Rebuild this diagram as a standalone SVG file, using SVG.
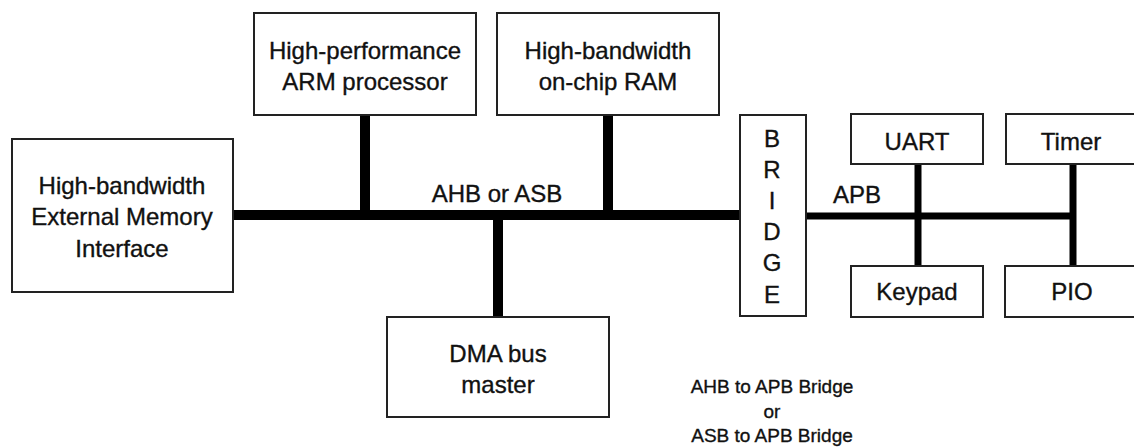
<svg xmlns="http://www.w3.org/2000/svg" width="1134" height="447" viewBox="0 0 1134 447">
<style>
.box{fill:#fff;stroke:#222;stroke-width:2}
.t{font-family:"Liberation Sans",Arial,sans-serif;font-size:24px;fill:#111;stroke:#111;stroke-width:0.35;text-anchor:middle}
.s{font-family:"Liberation Sans",Arial,sans-serif;font-size:19px;fill:#111;stroke:#111;stroke-width:0.35;text-anchor:middle}
.bus{stroke:#000;stroke-width:10;fill:none}
.apb{stroke:#000;stroke-width:7;fill:none}
</style>
<rect width="1134" height="447" fill="#fff"/>
<g id="connectors">
<line class="bus" x1="233" y1="215" x2="740" y2="215"/>
<line class="bus" x1="365" y1="115" x2="365" y2="215"/>
<line class="bus" x1="608" y1="115" x2="608" y2="215"/>
<line class="bus" x1="498" y1="215" x2="498" y2="317"/>
<line class="apb" x1="806" y1="216" x2="1073" y2="216"/>
<line class="apb" x1="918" y1="164" x2="918" y2="266"/>
<line class="apb" x1="1073" y1="164" x2="1073" y2="266"/>
</g>
<g id="ext-mem">
<rect class="box" x="12" y="139" width="221" height="153"/>
<text class="t" x="122" y="194">High-bandwidth</text>
<text class="t" x="122" y="225">External Memory</text>
<text class="t" x="122" y="257">Interface</text>
</g>
<g id="arm">
<rect class="box" x="254" y="13" width="222" height="102"/>
<text class="t" x="365" y="59">High-performance</text>
<text class="t" x="365" y="90">ARM processor</text>
</g>
<g id="ram">
<rect class="box" x="497" y="13" width="222" height="102"/>
<text class="t" x="608" y="59">High-bandwidth</text>
<text class="t" x="608" y="90">on-chip RAM</text>
</g>
<g id="dma">
<rect class="box" x="387" y="317" width="222" height="100"/>
<text class="t" x="498" y="362">DMA bus</text>
<text class="t" x="498" y="393">master</text>
</g>
<g id="bridge">
<rect class="box" x="740" y="115" width="66" height="201"/>
<text class="t" x="772" y="147">B</text>
<text class="t" x="772" y="178">R</text>
<text class="t" x="772" y="209">I</text>
<text class="t" x="772" y="240">D</text>
<text class="t" x="772" y="271">G</text>
<text class="t" x="772" y="303">E</text>
</g>
<g id="uart">
<rect class="box" x="851" y="114" width="132" height="50"/>
<text class="t" x="917" y="150">UART</text>
</g>
<g id="timer">
<rect class="box" x="1006" y="114" width="140" height="50"/>
<text class="t" x="1071" y="150">Timer</text>
</g>
<g id="keypad">
<rect class="box" x="851" y="266" width="132" height="51"/>
<text class="t" x="917" y="300">Keypad</text>
</g>
<g id="pio">
<rect class="box" x="1005" y="266" width="140" height="51"/>
<text class="t" x="1072" y="300">PIO</text>
</g>
<g id="labels">
<text class="t" x="497" y="202">AHB or ASB</text>
<text class="t" x="857" y="203">APB</text>
<text class="s" x="772" y="393">AHB to APB Bridge</text>
<text class="s" x="772" y="418">or</text>
<text class="s" x="772" y="442">ASB to APB Bridge</text>
</g>
</svg>
